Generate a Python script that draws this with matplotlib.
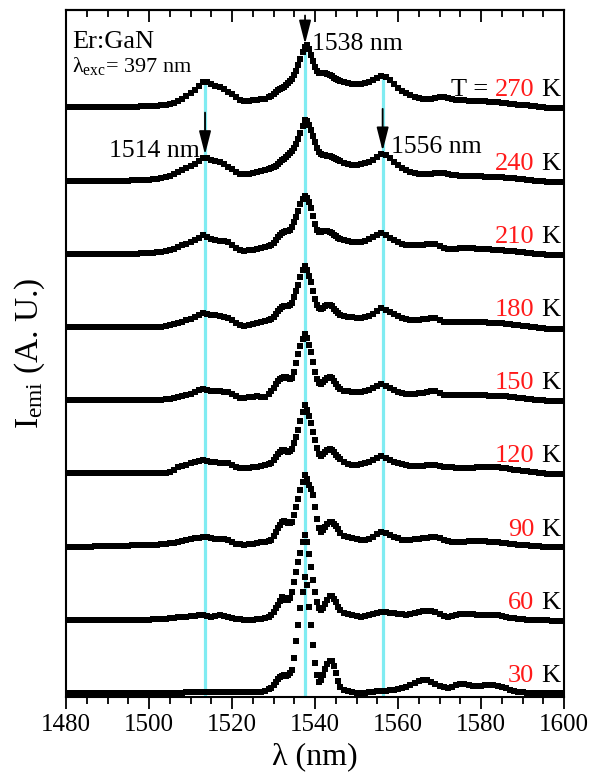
import numpy as np
import matplotlib
matplotlib.use('Agg')
import matplotlib.pyplot as plt
from matplotlib.ticker import MultipleLocator
import matplotlib.transforms as mtransforms

plt.rcParams['font.family'] = ['Liberation Serif', 'DejaVu Serif']
plt.rcParams['mathtext.fontset'] = 'custom'
plt.rcParams['mathtext.rm'] = 'Liberation Serif'
plt.rcParams['mathtext.it'] = 'Liberation Serif:italic'

# wavelength grid (nm): 1 nm steps, 0.5 nm around the main 1538 nm line
wl = np.concatenate([np.arange(1480, 1530), np.arange(1529.5, 1546.5, 0.5), np.arange(1547, 1601)])

# emission intensity (arb. units), one list per temperature
i30 = ([0, 0, 0, 0, 0, 0, 0, 0, 0, 0, 0, 0, 0, 0, 0, 0, 0, 0, 0, 0,
        0, 0, 0, 0, 0, 0, 0, 0, 0, 1, 1, 1, 1, 1, 1, 1, 1, 1, 1, 1,
        1, 1, 1, 1, 1, 1, 1, 1, 2, 4]
       + [5, 8, 11, 14, 16, 17, 18, 17, 18, 20, 23, 35, 52, 68, 85, 101, 116,
          108, 86, 68, 48, 30, 18, 11, 13, 18, 24, 29, 32, 32, 27, 20, 12, 6]
       + [3, 2, 1, 0, 0, 0, 1, 1, 2, 2, 2, 3, 3, 4, 5, 6, 8, 10, 12, 13,
          13, 11, 9, 7, 6, 5, 6, 8, 9, 9, 8, 7, 7, 7, 8, 8, 8, 7, 6, 5,
          3, 2, 1, 1, 0, 0, 0, 0, 0, 0, 0, 0, 0, 0])
i60 = ([0, 0, 0, 0, 0, 0, 0, 0, 0, 0, 0, 0, 0, 0, 0, 0, 0, 0, 0, 0,
        0, 1, 1, 1, 1, 2, 2, 3, 3, 3, 4, 4, 5, 5, 4, 3, 4, 5, 4, 3,
        2, 1, 1, 0, 0, 0, 1, 1, 2, 3]
       + [5, 8, 12, 15, 19, 23, 22, 20, 20, 22, 28, 38, 48, 58, 67, 78, 85,
          78, 66, 53, 40, 28, 18, 12, 10, 12, 16, 20, 24, 24, 21, 18, 13, 10]
       + [7, 6, 5, 4, 3, 4, 5, 6, 7, 8, 8, 7, 7, 6, 6, 5, 6, 7, 8, 9,
          9, 9, 8, 6, 4, 3, 4, 5, 6, 6, 6, 6, 5, 5, 5, 5, 5, 5, 4, 3,
          2, 2, 1, 1, 0, 0, 0, 0, 0, 0, -1, -1, -1, -1])
i90 = ([0, 0, 0, 0, 0, 0, 0, 1, 1, 1, 1, 1, 1, 1, 1, 1, 2, 2, 2, 2,
        2, 2, 2, 3, 3, 4, 4, 5, 6, 7, 8, 9, 9, 10, 10, 9, 8, 8, 8, 7,
        5, 3, 3, 2, 3, 3, 4, 5, 5, 6]
       + [7, 11, 15, 19, 22, 25, 26, 25, 24, 24, 25, 32, 40, 48, 57, 65, 72,
          68, 62, 58, 52, 40, 28, 19, 15, 17, 20, 23, 25, 25, 23, 21, 18, 14]
       + [11, 10, 9, 8, 7, 7, 8, 10, 13, 15, 14, 12, 10, 9, 7, 7, 7, 8, 8, 9,
          9, 10, 10, 9, 7, 6, 5, 5, 5, 5, 6, 6, 6, 6, 6, 5, 5, 5, 4, 4,
          3, 3, 2, 2, 2, 1, 1, 1, 0, 0, 0, 0, 0, 0])
i120 = ([0, 0, 0, 0, 0, 0, 0, 0, 0, 0, 0, 0, 0, 0, 0, 0, 0, 0, 0, 0,
         0, 0, 0, 0, 0, 1, 3, 6, 7, 8, 10, 11, 12, 13, 12, 11, 11, 10, 10, 10,
         8, 6, 5, 5, 5, 6, 6, 7, 8, 9]
        + [10, 13, 16, 19, 21, 23, 23, 22, 21, 22, 24, 30, 36, 43, 52, 61, 68,
           63, 57, 50, 41, 33, 25, 19, 17, 19, 21, 23, 24, 23, 21, 18, 16, 14]
        + [11, 9, 8, 8, 9, 10, 11, 13, 15, 17, 15, 13, 11, 10, 9, 8, 7, 7, 7, 7,
           8, 8, 8, 7, 6, 6, 6, 5, 5, 5, 5, 5, 6, 6, 6, 6, 6, 6, 5, 5,
           4, 3, 3, 2, 2, 1, 1, 0, 0, -1, -1, -1, -1, -1])
i150 = ([0, 0, 0, 0, 0, 0, 0, 0, 0, 0, 0, 0, 0, 0, 0, 0, 0, 0, 0, 0,
         0, 0, 0, 0, 1, 1, 2, 3, 4, 5, 6, 8, 10, 11, 10, 9, 9, 9, 8, 8,
         6, 4, 2, 2, 3, 3, 4, 3, 3, 6]
        + [9, 12, 16, 19, 21, 22, 23, 23, 22, 21, 22, 28, 37, 46, 54, 61, 66,
           62, 55, 48, 38, 28, 21, 17, 16, 18, 20, 22, 23, 22, 19, 16, 13, 11]
        + [9, 9, 8, 8, 8, 9, 10, 12, 14, 16, 14, 12, 10, 8, 7, 6, 6, 6, 7, 7,
           8, 9, 9, 7, 5, 5, 5, 5, 5, 5, 5, 5, 5, 5, 5, 4, 4, 4, 4, 4,
           3, 3, 2, 2, 1, 1, 0, 0, 0, -1, -1, -1, -1, -1])
i180 = ([0, 0, 0, 0, 0, 0, 0, 0, 0, 0, 0, 0, 0, 0, 0, 0, 0, 0, 0, 0,
         0, 0, 0, 0, 1, 2, 3, 4, 5, 7, 8, 10, 12, 14, 13, 12, 12, 11, 10, 9,
         7, 4, 2, 1, 2, 3, 4, 5, 6, 7]
        + [8, 10, 13, 16, 18, 20, 21, 21, 21, 22, 24, 30, 36, 42, 50, 57, 61,
           57, 51, 45, 36, 28, 22, 19, 18, 19, 21, 22, 22, 21, 18, 16, 14, 12]
        + [11, 10, 10, 9, 9, 10, 11, 13, 16, 19, 17, 15, 13, 11, 9, 8, 7, 7, 7, 8,
           8, 9, 9, 7, 5, 5, 5, 5, 5, 5, 5, 5, 5, 5, 5, 4, 4, 4, 4, 3,
           3, 2, 2, 1, 1, 0, 0, -1, -1, -2, -2, -2, -2, -2])
i210 = ([0, 0, 0, 0, 0, 0, 0, 0, 0, 0, 0, 0, 0, 0, 0, 0, 0, 0, 1, 1,
         1, 1, 2, 2, 3, 4, 5, 7, 9, 10, 12, 14, 16, 19, 17, 15, 14, 13, 13, 12,
         9, 6, 4, 3, 4, 4, 5, 6, 7, 8]
        + [9, 11, 14, 17, 19, 21, 22, 23, 23, 24, 27, 32, 37, 43, 50, 55, 58,
           56, 52, 46, 38, 30, 24, 22, 22, 23, 23, 23, 22, 21, 19, 18, 16, 15]
        + [14, 13, 12, 12, 12, 13, 15, 17, 19, 21, 19, 16, 14, 12, 10, 9, 9, 9, 9, 9,
           10, 10, 10, 8, 6, 5, 5, 5, 6, 6, 6, 6, 5, 5, 5, 5, 4, 4, 4, 3,
           3, 3, 2, 2, 1, 1, 0, 0, 0, -1, -1, -1, -1, -1])
i240 = ([0, 0, 0, 0, 0, 0, 0, 0, 0, 0, 0, 0, 0, 0, 0, 0, 1, 1, 1, 1,
         1, 2, 2, 3, 4, 5, 7, 9, 11, 13, 15, 17, 20, 23, 23, 21, 20, 19, 17, 14,
         12, 9, 7, 7, 7, 8, 9, 10, 11, 12]
        + [13, 14, 15, 17, 19, 21, 22, 24, 26, 28, 30, 33, 37, 42, 48, 55, 61,
           60, 56, 51, 45, 39, 33, 29, 27, 26, 26, 25, 25, 24, 23, 22, 21, 20]
        + [18, 17, 16, 16, 17, 18, 19, 21, 24, 27, 26, 23, 19, 16, 13, 11, 9, 8, 7, 7,
           7, 7, 8, 8, 8, 7, 6, 6, 5, 5, 5, 5, 5, 5, 4, 4, 4, 4, 4, 3,
           3, 3, 2, 2, 1, 1, 0, 0, 0, -1, -1, -1, -1, -1])
i270 = ([0, 0, 0, 0, 0, 0, 0, 0, 0, 0, 0, 0, 0, 0, 0, 0, 0, 0, 1, 1,
         1, 1, 1, 2, 2, 3, 4, 6, 8, 11, 14, 17, 21, 25, 25, 23, 21, 20, 18, 15,
         13, 10, 7, 6, 6, 7, 7, 8, 8, 10]
        + [11, 13, 15, 17, 18, 19, 20, 22, 24, 26, 28, 32, 36, 42, 48, 55, 60,
           62, 58, 52, 46, 40, 36, 34, 34, 34, 34, 33, 32, 31, 29, 28, 27, 26]
        + [25, 24, 23, 23, 23, 24, 25, 27, 29, 31, 30, 27, 23, 19, 16, 14, 12, 10, 9, 8,
           8, 8, 9, 10, 10, 9, 8, 7, 7, 7, 6, 6, 6, 6, 6, 5, 5, 5, 4, 4,
           3, 3, 2, 2, 2, 1, 1, 0, 0, -1, -1, -1, -1, -1])

temps = [30, 60, 90, 120, 150, 180, 210, 240, 270]
spectra = [i30, i60, i90, i120, i150, i180, i210, i240, i270]
peak_lines = [1513.5, 1537.6, 1556.3]
step = 73.2

fig = plt.figure(figsize=(6, 7.74), dpi=100)
ax = fig.add_axes([0.11, 0.0995, 0.83, 0.8876])

offs = [k * step for k in range(len(temps))]
ymin = -4

# cyan guide lines, from the bottom up to the 270 K curve
tops = [offs[-1] + np.interp(p, wl, i270) for p in peak_lines]
ax.vlines(peak_lines, ymin, tops, colors='#80ecf2', lw=2.3, zorder=1)

for s, off in zip(spectra, offs):
    ax.plot(wl, np.array(s) + off, ls='none', marker='s', ms=3.9, mew=0,
            color='k', zorder=3)

# arrows
arrow = dict(arrowstyle='-|>,head_length=1.1,head_width=0.28', color='k',
             lw=1.3, mutation_scale=13, shrinkA=0, shrinkB=0)
tip = tops[1] + 3
ax.annotate('', xy=(peak_lines[1], tip), xytext=(peak_lines[1], 677.5), arrowprops=arrow, zorder=5)
for p in (peak_lines[0], peak_lines[2]):
    tip = offs[7] + np.interp(p, wl, i240) + 3
    ax.annotate('', xy=(p, tip), xytext=(p, tip + 42), arrowprops=arrow, zorder=5)

ax.text(1539.3, 643, '1538 nm', fontsize=18.5, va='baseline', ha='left')
ax.text(1512.3, 536, '1514 nm', fontsize=18.5, va='baseline', ha='right')
ax.text(1558.2, 539.5, '1556 nm', fontsize=18.5, va='baseline', ha='left')

ax.text(0.012, 0.945, 'Er:GaN', fontsize=19, transform=ax.transAxes, va='baseline')
ax.text(0.012, 0.91, 'λ$_{\\rm exc}$= 397 nm', fontsize=16, transform=ax.transAxes, va='baseline')

# temperature labels
trans = mtransforms.blended_transform_factory(ax.transAxes, ax.transData)
for T, off in zip(temps, offs):
    kt = ax.text(0.992, off + 6, 'K', fontsize=19, transform=trans, ha='right', va='bottom')
    nt = ax.annotate(str(T), xy=(0, 0), xycoords=kt, xytext=(-4.8, 0), textcoords='offset points',
                     ha='right', va='bottom', fontsize=19, color='#ff1a1a')
    if T == 270:
        ax.annotate('T =', xy=(0, 0), xycoords=nt, xytext=(-4.8, 0), textcoords='offset points',
                    ha='right', va='bottom', fontsize=19)

ax.set_xlim(1480, 1600)
ax.set_ylim(ymin, 683)
ax.set_xticks(np.arange(1480, 1601, 20))
ax.xaxis.set_minor_locator(MultipleLocator(5))
ax.set_yticks([])
ax.tick_params(axis='x', which='major', direction='out', length=8.5, width=1.3, labelsize=18, pad=4)
ax.tick_params(axis='x', which='minor', direction='out', length=5, width=1.3)
top = ax.secondary_xaxis('top')
top.set_xticks(np.arange(1480, 1601, 20))
top.xaxis.set_minor_locator(MultipleLocator(5))
top.tick_params(axis='x', which='major', direction='in', length=8.5, width=1.3, labeltop=False)
top.tick_params(axis='x', which='minor', direction='in', length=5, width=1.3)
top.spines['top'].set_linewidth(1.5)
for sp in ax.spines.values():
    sp.set_linewidth(1.5)

ax.set_xlabel('λ (nm)', fontsize=23, labelpad=4)
ax.set_ylabel('I$_{\\rm emi}$ (A. U.)', fontsize=24, labelpad=14)

fig.savefig('out.png', dpi=100)
